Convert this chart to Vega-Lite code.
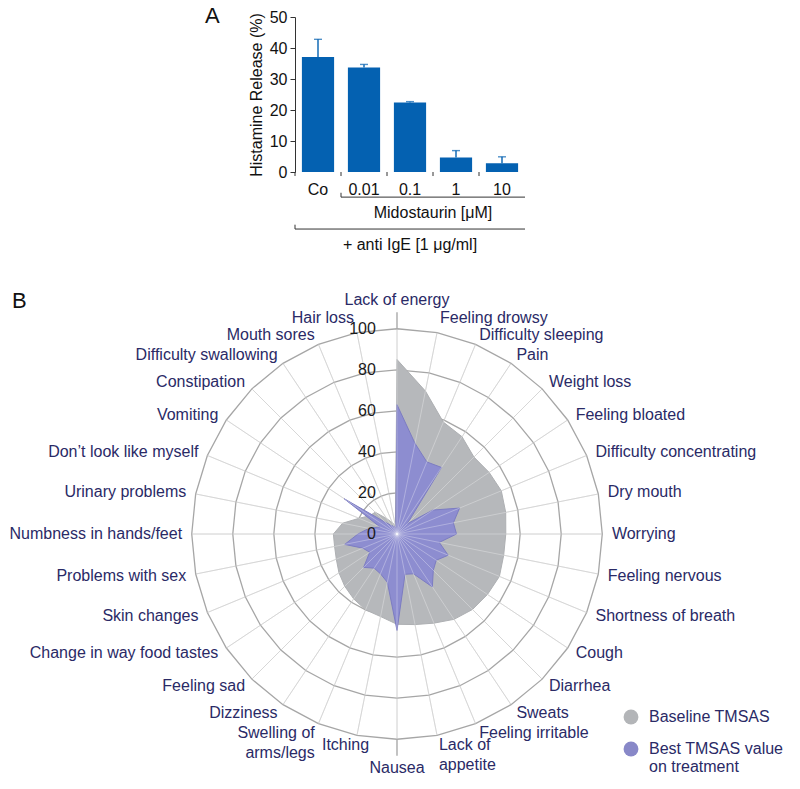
{
  "$schema": "https://vega.github.io/schema/vega-lite/v6.json",
  "background": "white",
  "padding": {"left": 7, "top": 5, "right": 5, "bottom": 0},
  "config": {"view": {"stroke": null}, "font": "Liberation Sans", "text": {"font": "Liberation Sans"}, "title": {"font": "Liberation Sans"},
    "axisY": {"values": [0, 10, 20, 30, 40, 50], "tickCount": 6, "labelOverlap": false}},
  "datasets": {
    "histamine": [
      {"cond": "Co", "release": 37.1, "upper": 42.8},
      {"cond": "0.01", "release": 33.7, "upper": 34.7},
      {"cond": "0.1", "release": 22.4, "upper": 22.7},
      {"cond": "1", "release": 4.7, "upper": 6.9},
      {"cond": "10", "release": 2.8, "upper": 4.9}
    ],
    "tmsas": [
      {"idx": 0, "symptom": "Lack of energy", "baseline": 85, "best": 63},
      {"idx": 1, "symptom": "Feeling drowsy", "baseline": 71, "best": 45},
      {"idx": 2, "symptom": "Difficulty sleeping", "baseline": 59, "best": 38},
      {"idx": 3, "symptom": "Pain", "baseline": 57, "best": 39},
      {"idx": 4, "symptom": "Weight loss", "baseline": 53, "best": 7},
      {"idx": 5, "symptom": "Feeling bloated", "baseline": 54, "best": 21},
      {"idx": 6, "symptom": "Difficulty concentrating", "baseline": 55, "best": 33},
      {"idx": 7, "symptom": "Dry mouth", "baseline": 54, "best": 28},
      {"idx": 8, "symptom": "Worrying", "baseline": 53, "best": 29},
      {"idx": 9, "symptom": "Feeling nervous", "baseline": 53, "best": 21},
      {"idx": 10, "symptom": "Shortness of breath", "baseline": 54, "best": 27},
      {"idx": 11, "symptom": "Cough", "baseline": 53, "best": 23},
      {"idx": 12, "symptom": "Diarrhea", "baseline": 52, "best": 25},
      {"idx": 13, "symptom": "Sweats", "baseline": 50, "best": 31},
      {"idx": 14, "symptom": "Feeling irritable", "baseline": 47, "best": 21},
      {"idx": 15, "symptom": "Lack of\nappetite", "baseline": 45, "best": 20},
      {"idx": 16, "symptom": "Nausea", "baseline": 44, "best": 47},
      {"idx": 17, "symptom": "Itching", "baseline": 41, "best": 24},
      {"idx": 18, "symptom": "Swelling of\narms/legs", "baseline": 40, "best": 21},
      {"idx": 19, "symptom": "Dizziness", "baseline": 38, "best": 20},
      {"idx": 20, "symptom": "Feeling sad", "baseline": 36, "best": 23},
      {"idx": 21, "symptom": "Change in way food tastes", "baseline": 34, "best": 16},
      {"idx": 22, "symptom": "Skin changes", "baseline": 32, "best": 18},
      {"idx": 23, "symptom": "Problems with sex", "baseline": 31, "best": 26},
      {"idx": 24, "symptom": "Numbness in hands/feet", "baseline": 31, "best": 19},
      {"idx": 25, "symptom": "Urinary problems", "baseline": 27, "best": 14},
      {"idx": 26, "symptom": "Don’t look like myself", "baseline": 20, "best": 9},
      {"idx": 27, "symptom": "Vomiting", "baseline": 16, "best": 31},
      {"idx": 28, "symptom": "Constipation", "baseline": 15, "best": 8},
      {"idx": 29, "symptom": "Difficulty swallowing", "baseline": 9, "best": 5},
      {"idx": 30, "symptom": "Mouth sores", "baseline": 6, "best": 4},
      {"idx": 31, "symptom": "Hair loss", "baseline": 4, "best": 3}
    ],
    "ringlabels": [{"ring": 0}, {"ring": 20}, {"ring": 40}, {"ring": 60}, {"ring": 80}, {"ring": 100}],
    "legend": [{"series": "Baseline TMSAS"}, {"series": "Best TMSAS value on treatment"}]
  },
  "spacing": 30,
  "vconcat": [
    {
      "spacing": 0,
      "hconcat": [
        {"width": 198, "height": 155, "data": {"values": [{}]}, "mark": {"type": "point", "opacity": 0}, "encoding": {}},
        {
          "width": 230,
          "height": 155,
          "data": {"name": "histamine"},
          "title": {"text": "A", "anchor": "start", "frame": "group", "dx": -90, "offset": -19, "fontSize": 22, "fontWeight": "normal", "color": "#111111"},
          "layer": [
            {
              "mark": {"type": "bar", "color": "#0461b1", "width": {"band": 0.7}},
              "encoding": {
                "x": {"field": "cond", "type": "nominal", "sort": null,
                  "scale": {"domain": ["Co", "0.01", "0.1", "1", "10"], "paddingInner": 0, "paddingOuter": 0},
                  "axis": {"title": null, "domain": false, "ticks": false, "labelAngle": 0, "labelFontSize": 16, "labelColor": "#111111", "labelPadding": 9}},
                "y": {"field": "release", "type": "quantitative",
                  "scale": {"domain": [0, 50], "nice": false},
                  "axis": {"values": [0, 10, 20, 30, 40, 50], "tickCount": 6, "labelOverlap": false, "title": "Histamine Release (%)", "titleFontSize": 16, "titleFontWeight": "normal", "titleColor": "#111111", "titlePadding": 5, "labelFontSize": 16, "labelColor": "#111111", "domainColor": "#333333", "tickColor": "#333333", "tickSize": 5, "grid": false, "labelPadding": 3}}
              }
            },
            {
              "mark": {"type": "rule", "color": "#0461b1", "strokeWidth": 1.4},
              "encoding": {
                "x": {"field": "cond", "type": "nominal"},
                "y": {"field": "release", "type": "quantitative"},
                "y2": {"field": "upper"}
              }
            },
            {
              "mark": {"type": "tick", "color": "#0461b1", "thickness": 1.4, "size": 8},
              "encoding": {
                "x": {"field": "cond", "type": "nominal"},
                "y": {"field": "upper", "type": "quantitative"}
              }
            },
            {
              "mark": {"type": "rule", "color": "#333333", "strokeWidth": 1},
              "encoding": {
                "x": {"field": "cond", "type": "nominal", "bandPosition": 0},
                "y": {"datum": 0},
                "y2": {"datum": -1.3}
              }
            },
            {
              "data": {"values": [{}]},
              "mark": {"type": "rule", "color": "#333333", "strokeWidth": 1},
              "encoding": {
                "x": {"datum": "0.01", "bandPosition": 0},
                "x2": {"value": "width"},
                "y": {"datum": -8.1}
              }
            },
            {
              "data": {"values": [{}]},
              "mark": {"type": "rule", "color": "#333333", "strokeWidth": 1},
              "encoding": {
                "x": {"datum": "0.01", "bandPosition": 0},
                "y": {"datum": -8.1},
                "y2": {"datum": -6.7}
              }
            },
            {
              "data": {"values": [{}]},
              "mark": {"type": "rule", "color": "#333333", "strokeWidth": 1},
              "encoding": {
                "x": {"datum": "Co", "bandPosition": 0},
                "x2": {"value": "width"},
                "y": {"datum": -18.4}
              }
            },
            {
              "data": {"values": [{}]},
              "mark": {"type": "rule", "color": "#333333", "strokeWidth": 1},
              "encoding": {
                "x": {"datum": "Co", "bandPosition": 0},
                "y": {"datum": -18.4},
                "y2": {"datum": -17.0}
              }
            },
            {
              "data": {"values": [{}]},
              "mark": {"type": "text", "fontSize": 16, "color": "#111111", "baseline": "middle"},
              "encoding": {
                "x": {"datum": "1", "bandPosition": 0},
                "y": {"datum": -13.3},
                "text": {"value": "Midostaurin [μM]"}
              }
            },
            {
              "data": {"values": [{}]},
              "mark": {"type": "text", "fontSize": 16, "color": "#111111", "baseline": "middle"},
              "encoding": {
                "x": {"datum": "0.1", "bandPosition": 0.5},
                "y": {"datum": -23.6},
                "text": {"value": "+ anti IgE [1 μg/ml]"}
              }
            }
          ]
        }
      ]
    },
    {
      "width": 780,
      "height": 500,
      "title": {"text": "B", "anchor": "start", "frame": "group", "dx": 5, "offset": -29, "fontSize": 22, "fontWeight": "normal", "color": "#111111"},
      "data": {"name": "tmsas"},
      "transform": [
        {"calculate": "datum.idx * PI / 16", "as": "theta"},
        {"calculate": "sin(datum.theta)", "as": "sn"},
        {"calculate": "cos(datum.theta)", "as": "cs"},
        {"calculate": "100 * datum.sn", "as": "spx"},
        {"calculate": "100 * datum.cs", "as": "spy"},
        {"calculate": "108 * datum.sn", "as": "ex"},
        {"calculate": "108 * datum.cs", "as": "ey"},
        {"calculate": "datum.baseline * datum.sn", "as": "bx"},
        {"calculate": "datum.baseline * datum.cs", "as": "by"},
        {"calculate": "datum.best * datum.sn", "as": "tx"},
        {"calculate": "datum.best * datum.cs", "as": "ty"},
        {"calculate": "datum.idx % 16 == 0 ? 114 : ((datum.idx == 1 || datum.idx == 31) ? 107.5 : 104.7)", "as": "lr"},
        {"calculate": "datum.lr * datum.sn", "as": "lx"},
        {"calculate": "datum.lr * datum.cs", "as": "ly"}
      ],
      "layer": [
        {
          "mark": {"type": "rule", "color": "#c6c6c6", "strokeWidth": 1},
          "encoding": {
            "x": {"field": "spx", "type": "quantitative", "scale": {"domain": [-190, 190], "nice": false, "zero": false}, "axis": null},
            "y": {"field": "spy", "type": "quantitative", "scale": {"domain": [-121.8, 121.8], "nice": false, "zero": false}, "axis": null},
            "x2": {"datum": 0},
            "y2": {"datum": 0}
          }
        },
        {
          "transform": [{"filter": "datum.idx % 16 == 0"}],
          "mark": {"type": "rule", "color": "#9a9a9a", "strokeWidth": 1.2},
          "encoding": {
            "x": {"field": "spx", "type": "quantitative", "axis": null},
            "y": {"field": "spy", "type": "quantitative", "axis": null},
            "x2": {"field": "ex"},
            "y2": {"field": "ey"}
          }
        },
        {
          "transform": [
            {"calculate": "[20, 40, 60, 80, 100]", "as": "ring"},
            {"flatten": ["ring"]},
            {"calculate": "datum.ring * datum.sn", "as": "rx"},
            {"calculate": "datum.ring * datum.cs", "as": "ry"}
          ],
          "mark": {"type": "line", "interpolate": "linear-closed", "color": "#a6a6a6", "strokeWidth": 1.3},
          "encoding": {
            "x": {"field": "rx", "type": "quantitative", "axis": null},
            "y": {"field": "ry", "type": "quantitative", "axis": null},
            "detail": {"field": "ring", "type": "nominal"},
            "order": {"field": "idx", "type": "quantitative"}
          }
        },
        {
          "mark": {"type": "line", "interpolate": "linear-closed", "fill": "#b6b8bb", "stroke": "#aeb0b3", "strokeWidth": 1},
          "encoding": {
            "x": {"field": "bx", "type": "quantitative", "axis": null},
            "y": {"field": "by", "type": "quantitative", "axis": null},
            "order": {"field": "idx", "type": "quantitative"}
          }
        },
        {
          "mark": {"type": "line", "interpolate": "linear-closed", "fill": "#8d8dd0", "stroke": "#7c7cc2", "strokeWidth": 1},
          "encoding": {
            "x": {"field": "tx", "type": "quantitative", "axis": null},
            "y": {"field": "ty", "type": "quantitative", "axis": null},
            "order": {"field": "idx", "type": "quantitative"}
          }
        },
        {
          "mark": {"type": "rule", "color": "#ffffff", "strokeWidth": 1, "opacity": 0.3},
          "encoding": {
            "x": {"field": "spx", "type": "quantitative", "axis": null},
            "y": {"field": "spy", "type": "quantitative", "axis": null},
            "x2": {"datum": 0},
            "y2": {"datum": 0}
          }
        },
        {
          "data": {"name": "ringlabels"},
          "mark": {"type": "text", "align": "right", "baseline": "middle", "fontSize": 16, "color": "#1a1a1a"},
          "encoding": {
            "x": {"datum": -10.3, "axis": null},
            "y": {"field": "ring", "type": "quantitative", "axis": null},
            "text": {"field": "ring", "type": "quantitative"}
          }
        },
        {
          "transform": [{"filter": "datum.idx > 0 && datum.idx < 16"}],
          "mark": {"type": "text", "align": "left", "baseline": "middle", "fontSize": 16, "color": "#2a2a66", "lineBreak": "\n", "lineHeight": 20},
          "encoding": {
            "x": {"field": "lx", "type": "quantitative", "axis": null},
            "y": {"field": "ly", "type": "quantitative", "axis": null},
            "text": {"field": "symptom"}
          }
        },
        {
          "transform": [{"filter": "datum.idx > 17"}],
          "mark": {"type": "text", "align": "right", "baseline": "middle", "fontSize": 16, "color": "#2a2a66", "lineBreak": "\n", "lineHeight": 20},
          "encoding": {
            "x": {"field": "lx", "type": "quantitative", "axis": null},
            "y": {"field": "ly", "type": "quantitative", "axis": null},
            "text": {"field": "symptom"}
          }
        },
        {
          "transform": [{"filter": "datum.idx == 17"}],
          "mark": {"type": "text", "align": "right", "baseline": "middle", "fontSize": 16, "color": "#2a2a66", "dx": 14},
          "encoding": {
            "x": {"field": "lx", "type": "quantitative", "axis": null},
            "y": {"field": "ly", "type": "quantitative", "axis": null},
            "text": {"field": "symptom"}
          }
        },
        {
          "transform": [{"filter": "datum.idx % 16 == 0"}],
          "mark": {"type": "text", "align": "center", "baseline": "middle", "fontSize": 16, "color": "#2a2a66"},
          "encoding": {
            "x": {"field": "lx", "type": "quantitative", "axis": null},
            "y": {"field": "ly", "type": "quantitative", "axis": null},
            "text": {"field": "symptom"}
          }
        },
        {
          "data": {"name": "legend"},
          "mark": {"type": "point", "filled": true, "opacity": 0},
          "encoding": {
            "x": {"datum": 0, "axis": null},
            "y": {"datum": 0, "axis": null},
            "color": {"field": "series", "type": "nominal",
              "scale": {"domain": ["Baseline TMSAS", "Best TMSAS value on treatment"], "range": ["#b3b5b8", "#8888c8"]},
              "legend": {"orient": "none", "legendX": 616, "legendY": 692, "title": null, "padding": 0, "symbolType": "circle", "symbolSize": 220, "symbolOpacity": 1, "symbolStrokeWidth": 0, "labelFontSize": 16, "labelColor": "#2a2a66", "labelFont": "Liberation Sans", "labelOffset": 10, "labelLimit": 0, "rowPadding": 16,
                "labelExpr": "datum.label == 'Best TMSAS value on treatment' ? ['Best TMSAS value', 'on treatment'] : datum.label"}
            }
          }
        }
      ]
    }
  ]
}
